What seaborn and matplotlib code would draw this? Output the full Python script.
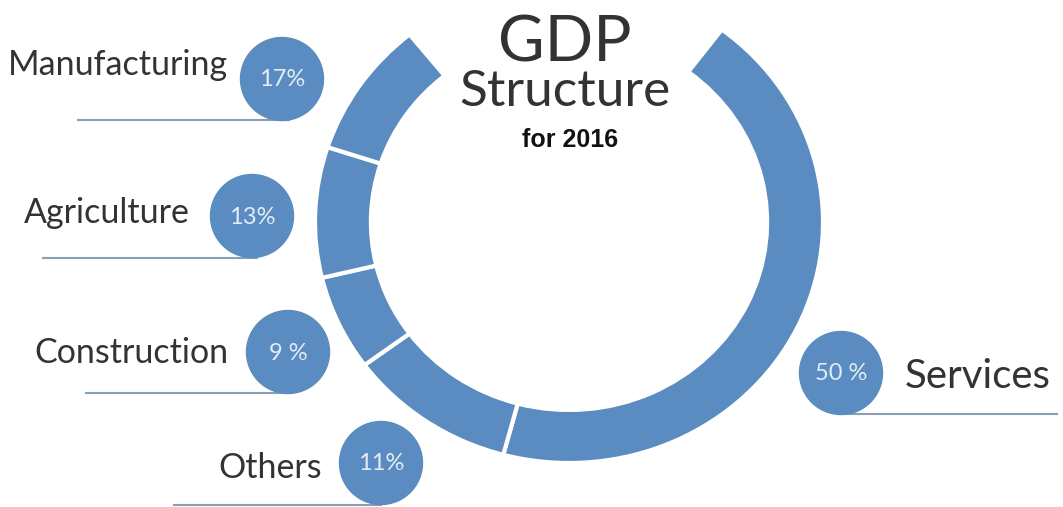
import matplotlib
matplotlib.use("Agg")
import matplotlib.pyplot as plt
from matplotlib.patches import Circle
import seaborn as sns

# data
sectors = ["Services", "Others", "Construction", "Agriculture", "Manufacturing"]
share_labels = ["50 %", "11%", "9 %", "13%", "17%"]
# arc length of each ring segment as drawn (degrees), plus the open gap at the top
arc_deg = [158, 38.6, 23, 31.5, 33]
gap_deg = 360 - sum(arc_deg)

sns.set_theme(style="white")
plt.rcParams["font.family"] = ["Lato", "DejaVu Sans"]

blue = "#5B8CC1"
W, H = 1063, 507
fig = plt.figure(figsize=(W / 100, H / 100), dpi=100)

# ring: centre (569, 222) px, radii 254 x 241 px
cx, cy, rx, ry = 569, 222, 254, 241
ax = fig.add_axes([(cx - rx) / W, (H - cy - ry) / H, 2 * rx / W, 2 * ry / H])
wedges, _ = ax.pie(arc_deg + [gap_deg], startangle=53, counterclock=False,
                   colors=[blue] * len(arc_deg) + ["none"],
                   wedgeprops=dict(width=0.22, edgecolor="white", linewidth=3))
wedges[-1].set_edgecolor("none")
ax.set_aspect("auto")
ax.set_xlim(-1, 1)
ax.set_ylim(-1, 1)
ax.axis("off")

# overlay in pixel coordinates for titles and badges
ov = fig.add_axes([0, 0, 1, 1])
ov.set_xlim(0, W)
ov.set_ylim(H, 0)
ov.axis("off")
ov.patch.set_alpha(0)

ov.text(565, 61, "GDP", ha="center", va="baseline", fontsize=46, color="#333333")
ov.text(565, 106, "Structure", ha="center", va="baseline", fontsize=37, color="#333333")
ov.text(570, 147, "for 2016", ha="center", va="baseline", fontsize=18,
        fontweight="bold", family="Liberation Sans", color="#111111")

# badge layout: circle centre, label anchor, underline span
badges = {
    "Manufacturing": dict(c=(282, 79), lab=(228, 75, "right"), line=(77, 290, 120)),
    "Agriculture": dict(c=(252, 216), lab=(190, 223, "right"), line=(42, 258, 258)),
    "Construction": dict(c=(288, 352), lab=(228, 363, "right"), line=(85, 292, 393)),
    "Others": dict(c=(381, 463), lab=(322, 478, "right"), line=(173, 382, 505)),
    "Services": dict(c=(841, 373), lab=(905, 388, "left"), line=(838, 1058, 414)),
}
for name, pct in zip(sectors, share_labels):
    b = badges[name]
    x0, x1, yl = b["line"]
    ov.plot([x0, x1], [yl, yl], color="#8A9FB6", lw=1.5, solid_capstyle="butt")
    ov.add_patch(Circle(b["c"], 41.5, color=blue, zorder=3))
    ov.text(b["c"][0], b["c"][1] + 1, pct, ha="center", va="center",
            fontsize=17, color="#E2ECF7", zorder=4)
    lx, ly, ha = b["lab"]
    ov.text(lx, ly, name, ha=ha, va="baseline",
            fontsize=29 if name == "Services" else 24.5, color="#333333")

fig.savefig("out.png", dpi=100)
